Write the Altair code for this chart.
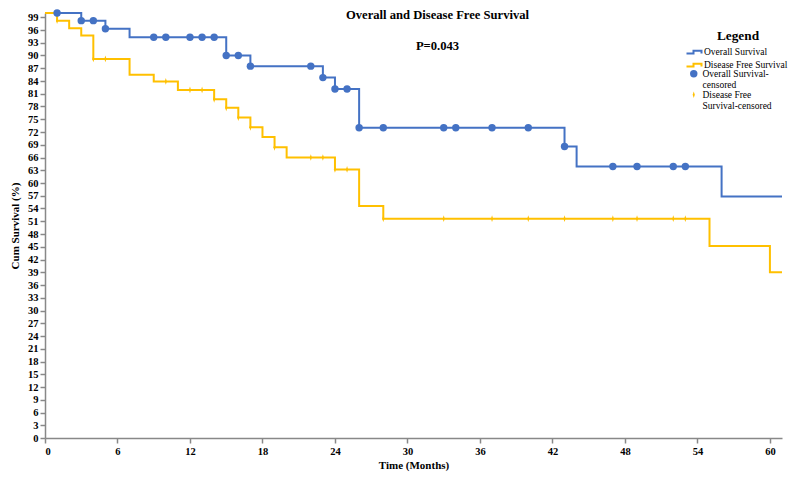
import altair as alt
import pandas as pd

# ---- data ----
os_time = [0, 3, 5, 7, 15, 17, 23, 24, 26, 43, 44, 56, 61]
os_surv = [100, 98.2, 96.3, 94.3, 90.0, 87.5, 84.8, 82.1, 73.0, 68.6, 63.9, 56.8, 56.8]

dfs_time = [0, 1, 2, 3, 4, 7, 9, 11, 14, 15, 16, 17, 18, 19, 20, 24, 26, 28, 55, 60, 61]
dfs_surv = [100, 98.2, 96.4, 94.7, 89.2, 85.5, 83.9, 81.9, 79.7, 77.7, 75.4, 73.1,
            70.8, 68.4, 66.0, 63.2, 54.6, 51.6, 45.2, 39.0, 39.0]

os_cens_time = [1, 3, 4, 5, 9, 10, 12, 13, 14, 15, 16, 17, 22, 23, 24, 25, 26, 28,
                33, 34, 37, 40, 43, 47, 49, 52, 53]
os_cens_surv = [100, 98.2, 98.2, 96.3, 94.3, 94.3, 94.3, 94.3, 94.3, 90.0, 90.0, 87.5,
                87.5, 84.8, 82.1, 82.1, 73.0, 73.0, 73.0, 73.0, 73.0, 73.0, 68.6, 63.9,
                63.9, 63.9, 63.9]

dfs_cens_time = [1, 4, 5, 10, 12, 13, 14, 15, 16, 17, 19, 22, 23, 24, 25, 28, 33, 37,
                 40, 43, 47, 49, 52, 53]
dfs_cens_surv = [98.2, 89.2, 89.2, 83.9, 81.9, 81.9, 79.7, 77.7, 75.4, 73.1, 68.4, 66.0,
                 66.0, 63.2, 63.2, 51.6, 51.6, 51.6, 51.6, 51.6, 51.6, 51.6, 51.6, 51.6]

line_series = ["Overall Survival", "Disease Free Survival"]
cens_series = ["Overall Survival-censored", "Disease Free Survival-censored"]
colors = ["#4472C4", "#FFC000"]
x_ticks = [0, 6, 12, 18, 24, 30, 36, 42, 48, 54, 60]
y_ticks = list(range(0, 100, 3))

# ---- tables ----
lines_df = pd.concat([
    pd.DataFrame({"time": os_time, "surv": os_surv, "series": line_series[0], "ord": 0}),
    pd.DataFrame({"time": dfs_time, "surv": dfs_surv, "series": line_series[1], "ord": 1}),
])
cens_df = pd.concat([
    pd.DataFrame({"time": os_cens_time, "surv": os_cens_surv, "cseries": cens_series[0], "ord": 0}),
    pd.DataFrame({"time": dfs_cens_time, "surv": dfs_cens_surv, "cseries": cens_series[1], "ord": 1}),
])

FONT = "Liberation Serif"
step_path = "M-1.5,0.25L-0.1,0.25L-0.1,-0.3L1.5,-0.3L1.5,0.25"
diamond_path = "M0,-1L0.32,0L0,1L-0.32,0Z"

x_axis = alt.Axis(title="Time (Months)", values=x_ticks, grid=False)
y_axis = alt.Axis(title="Cum Survival (%)", values=y_ticks, grid=False, labelOverlap=False)
x_scale = alt.Scale(domain=[0, 61], nice=False, zero=False)
y_scale = alt.Scale(domain=[0, 100], nice=False)

lines = alt.Chart(lines_df).mark_line(interpolate="step-after", strokeWidth=2).encode(
    x=alt.X("time:Q", scale=x_scale, axis=x_axis),
    y=alt.Y("surv:Q", scale=y_scale, axis=y_axis),
    stroke=alt.Stroke("series:N",
                      scale=alt.Scale(domain=line_series, range=colors),
                      legend=alt.Legend(title="Legend", orient="none", legendX=643, legendY=16,
                                        symbolType=step_path, symbolSize=100,
                                        symbolStrokeWidth=2, labelOffset=4,
                                        rowPadding=1, titleAnchor="middle",
                                        titleFontSize=13.3, titlePadding=4)),
    detail="series:N",
    order="ord:Q",
)

label_expr = ("datum.label == 'Overall Survival-censored' ? ['Overall Survival-', 'censored'] : "
              "['Disease Free', 'Survival-censored']")

points = alt.Chart(cens_df).mark_point(filled=True, opacity=1).encode(
    x=alt.X("time:Q", scale=x_scale, axis=x_axis),
    y=alt.Y("surv:Q", scale=y_scale, axis=y_axis),
    fill=alt.Fill("cseries:N",
                  scale=alt.Scale(domain=cens_series, range=colors),
                  title=None,
                  legend=alt.Legend(orient="none", legendX=644, legendY=56,
                                    labelExpr=label_expr, rowPadding=-2, labelOffset=4)),
    shape=alt.Shape("cseries:N",
                    scale=alt.Scale(domain=cens_series, range=["circle", diamond_path]),
                    title=None),
    size=alt.Size("cseries:N",
                  scale=alt.Scale(domain=cens_series, range=[55, 45]),
                  title=None),
)

chart = alt.layer(lines, points).properties(
    width=737,
    height=425,
    padding={"left": 37, "top": 5, "right": 10, "bottom": 34},
    autosize=alt.AutoSizeParams(type="none"),
    title=alt.TitleParams(
        "Overall and Disease Free Survival",
        subtitle="P=0.043",
        font=FONT, fontSize=12.6, fontWeight="bold", color="black",
        subtitleFont=FONT, subtitleFontSize=12.6, subtitleFontWeight="bold",
        subtitleColor="black", subtitlePadding=19,
        anchor="middle", dx=24, offset=-44,
    ),
).configure_view(
    stroke=None
).configure_axis(
    labelFont=FONT, labelFontSize=10.5, labelFontWeight="bold", labelColor="black",
    titleFont=FONT, titleFontSize=11, titleFontWeight="bold", titleColor="black",
    domainColor="#888888", domainWidth=1.5, tickColor="#888888", tickWidth=1.5,
    tickSize=5, labelPadding=2, labelOverlap=False,
).configure_axisX(
    titlePadding=3, labelPadding=3,
).configure_axisY(
    titlePadding=7, labelOverlap=False,
).configure_legend(
    labelFont=FONT, labelFontSize=9.5, labelColor="black", labelLimit=200,
    titleFont=FONT, titleColor="black", titleFontWeight="bold",
)

chart.save("out.html", embed_options={"renderer": "svg", "actions": False})
